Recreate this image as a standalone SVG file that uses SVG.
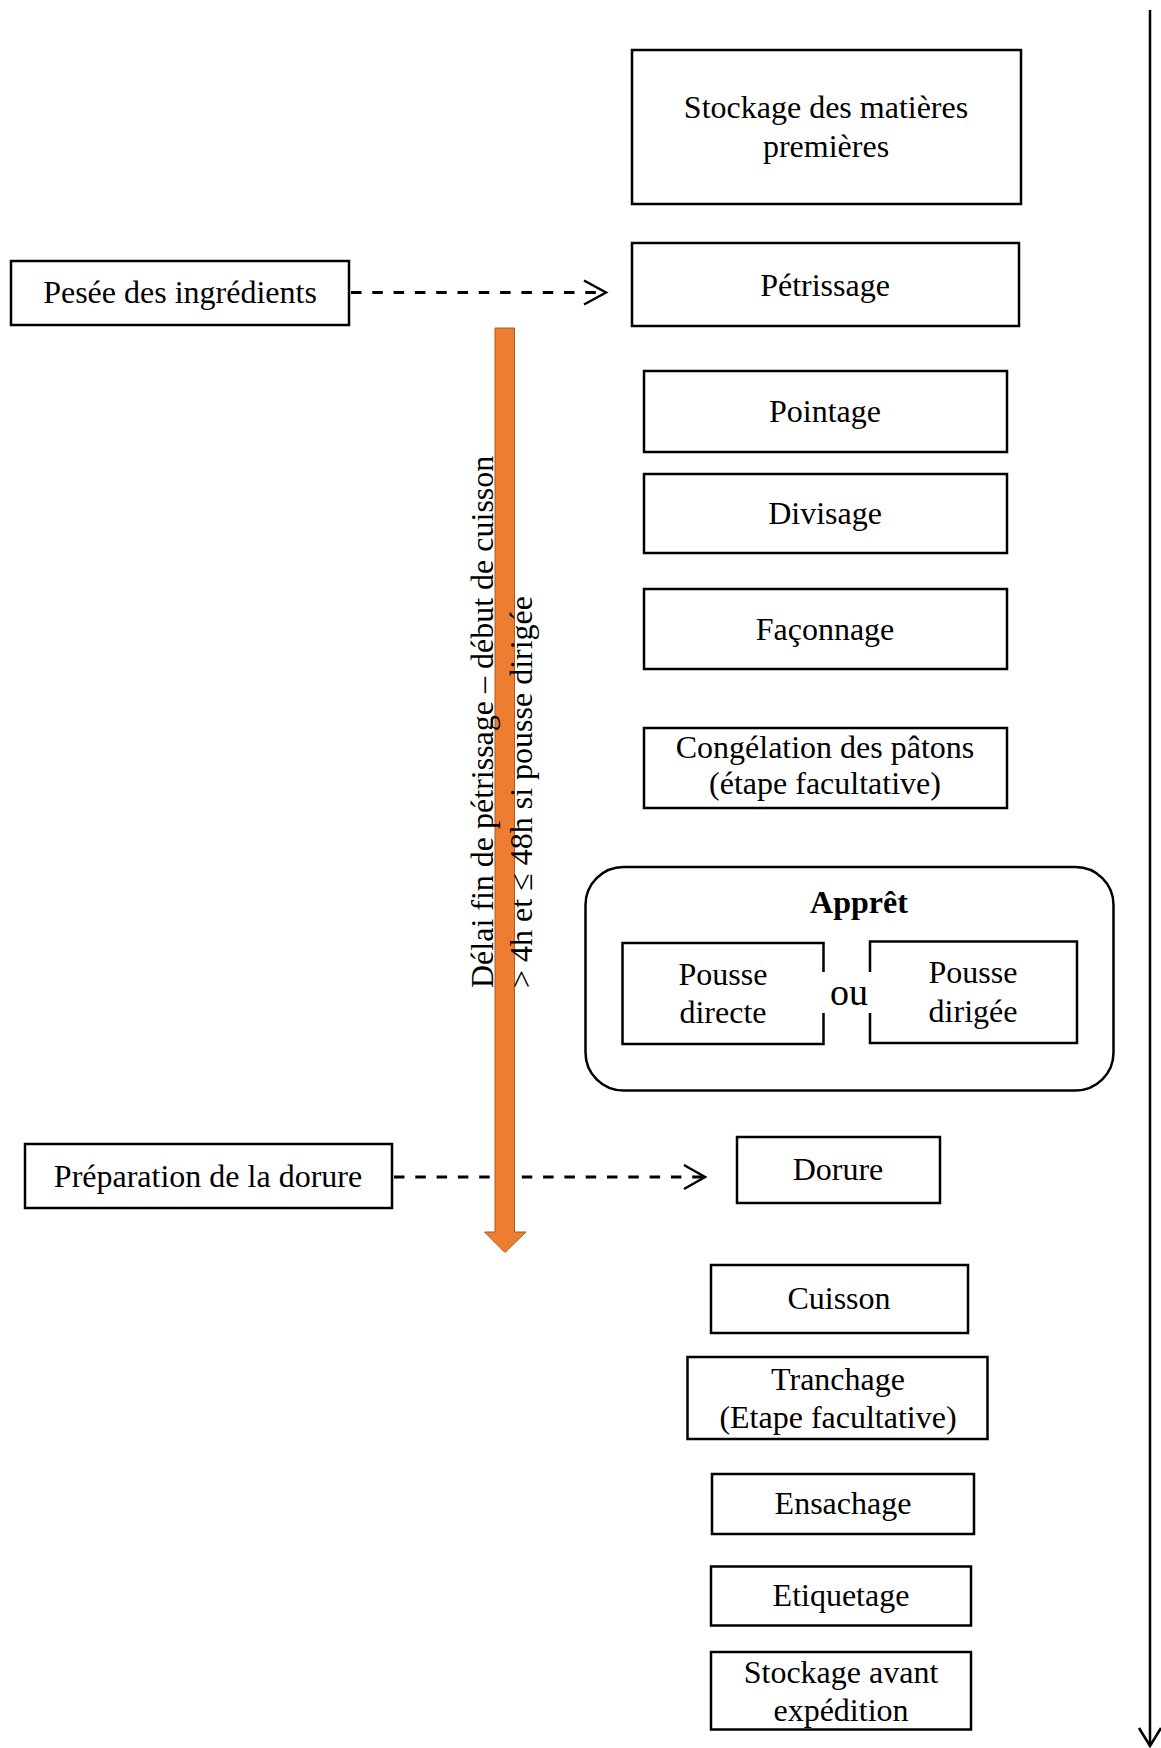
<svg xmlns="http://www.w3.org/2000/svg" width="1161" height="1748" viewBox="0 0 1161 1748">
<defs>
<style>
.box{fill:#fff;stroke:#000;stroke-width:2.5}
.t{font-family:"Liberation Serif","Times New Roman",serif;font-size:32px;fill:#000;text-anchor:middle}
.b{font-weight:bold}
.dash{fill:none;stroke:#000;stroke-width:3;stroke-dasharray:10.5 10.8}
.chev{fill:none;stroke:#000;stroke-width:2.5}
</style>
</defs>
<rect width="1161" height="1748" fill="#fff"/>

<g id="timeline">
<line x1="1150" y1="10" x2="1150" y2="1745" stroke="#000" stroke-width="2.5"/>
<polyline class="chev" points="1139,1728 1150,1746 1161,1728"/>
</g>

<g id="connectors">
<line class="dash" x1="351" y1="292.5" x2="604" y2="292.5"/>
<polyline class="chev" points="584,280.5 606,292.5 584,304.5"/>
<line class="dash" x1="394" y1="1177" x2="703" y2="1177"/>
<polyline class="chev" points="684,1165 705,1177 684,1189"/>
</g>

<g id="n-stockage"><rect class="box" x="632" y="50" width="389" height="154"/>
<text class="t" x="826" y="118">Stockage des matières</text><text class="t" x="826" y="157">premières</text></g>

<g id="n-pesee"><rect class="box" x="11" y="261" width="338" height="64"/>
<text class="t" x="180" y="303">Pesée des ingrédients</text></g>

<g id="n-petrissage"><rect class="box" x="632" y="243" width="387" height="83"/>
<text class="t" x="825" y="296">Pétrissage</text></g>

<g id="n-pointage"><rect class="box" x="644" y="371" width="363" height="81"/>
<text class="t" x="825" y="422">Pointage</text></g>

<g id="n-divisage"><rect class="box" x="644" y="474" width="363" height="79"/>
<text class="t" x="825" y="524">Divisage</text></g>

<g id="n-faconnage"><rect class="box" x="644" y="589" width="363" height="80"/>
<text class="t" x="825" y="640">Façonnage</text></g>

<g id="n-congelation"><rect class="box" x="644" y="728" width="363" height="80"/>
<text class="t" x="825" y="758">Congélation des pâtons</text><text class="t" x="825" y="794">(étape facultative)</text></g>

<g id="n-appret"><rect x="585.5" y="867" width="528" height="223.5" rx="38" ry="38" fill="#fff" stroke="#000" stroke-width="2.5"/>
<text class="t b" x="859" y="913">Apprêt</text></g>

<g id="n-pousse-directe">
<polyline fill="none" stroke="#000" stroke-width="2.5" points="823.5,972 823.5,943 622.5,943 622.5,1044 823.5,1044 823.5,1013"/>
<text class="t" x="723" y="985">Pousse</text><text class="t" x="723" y="1023">directe</text></g>

<g id="n-ou"><text class="t" x="849" y="1005" style="font-size:38px">ou</text></g>

<g id="n-pousse-dirigee">
<polyline fill="none" stroke="#000" stroke-width="2.5" points="870,972 870,941.5 1077,941.5 1077,1043 870,1043 870,1013"/>
<text class="t" x="973" y="983">Pousse</text><text class="t" x="973" y="1022">dirigée</text></g>

<g id="n-preparation"><rect class="box" x="25" y="1144" width="367" height="64"/>
<text class="t" x="208" y="1187">Préparation de la dorure</text></g>

<g id="n-dorure"><rect class="box" x="737" y="1137" width="203" height="66"/>
<text class="t" x="838" y="1180">Dorure</text></g>

<g id="n-cuisson"><rect class="box" x="711" y="1265" width="257" height="68"/>
<text class="t" x="839" y="1309">Cuisson</text></g>

<g id="n-tranchage"><rect class="box" x="687.5" y="1357" width="300" height="82"/>
<text class="t" x="838" y="1390">Tranchage</text><text class="t" x="838" y="1428">(Etape facultative)</text></g>

<g id="n-ensachage"><rect class="box" x="712" y="1474" width="262" height="60"/>
<text class="t" x="843" y="1514">Ensachage</text></g>

<g id="n-etiquetage"><rect class="box" x="711" y="1566.5" width="260" height="59"/>
<text class="t" x="841" y="1606">Etiquetage</text></g>

<g id="n-stockage-avant"><rect class="box" x="711" y="1652" width="260" height="77.5"/>
<text class="t" x="841" y="1683">Stockage avant</text><text class="t" x="841" y="1721">expédition</text></g>

<g id="n-delai">
<path d="M495,328 H514.5 V1232 H526 L505,1252.5 L484.5,1232 H495 Z" fill="#ED7D31" stroke="#AE5A21" stroke-width="1"/>
<text class="t" style="text-anchor:start" transform="translate(493,988) rotate(-90)">Délai fin de pétrissage – début de cuisson</text>
<text class="t" style="text-anchor:start" transform="translate(532,988) rotate(-90)">&gt; 4h et ≤ 48h si pousse dirigée</text>
</g>
</svg>
